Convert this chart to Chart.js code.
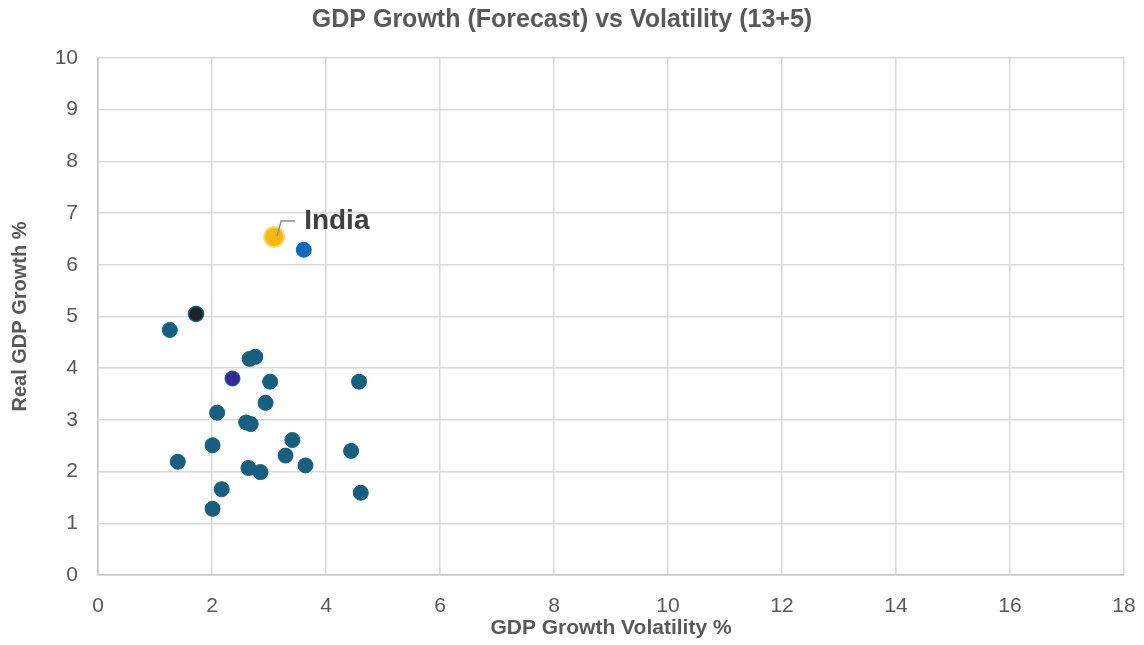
<!DOCTYPE html>
<html>
<head>
<meta charset="utf-8">
<script src="https://cdn.jsdelivr.net/npm/chart.js@4/dist/chart.umd.min.js"></script>
<style>
  html, body { margin: 0; padding: 0; background: #fff; }
  #wrap { width: 1144px; height: 645px; }
</style>
</head>
<body>
<div id="wrap"><canvas id="chart" width="1144" height="645"></canvas></div>
<script>
// Chart data
const xTicks = [0, 2, 4, 6, 8, 10, 12, 14, 16, 18];
const yTicks = [0, 1, 2, 3, 4, 5, 6, 7, 8, 9, 10];

// India (highlighted)
const indiaVolatility = [3.09];
const indiaGrowth = [6.54];

// other highlighted points
const blueVolatility = [3.61];
const blueGrowth = [6.29];
const darkVolatility = [1.72];
const darkGrowth = [5.05];
const purpleVolatility = [2.36];
const purpleGrowth = [3.80];

// the rest of the countries
const volatility = [1.26, 2.66, 2.76, 3.02, 4.58, 2.94, 2.09, 2.60, 2.68, 3.41, 2.01, 1.40, 3.29, 3.64, 4.44, 2.64, 2.85, 2.17, 4.61, 2.01];
const growth     = [4.74, 4.18, 4.22, 3.74, 3.74, 3.33, 3.14, 2.95, 2.92, 2.61, 2.51, 2.19, 2.31, 2.12, 2.40, 2.07, 1.99, 1.66, 1.59, 1.28];

function toPoints(xs, ys) {
    return xs.map((x, i) => ({ x: x, y: ys[i] }));
}

const FONT = "'Liberation Sans', Arial, sans-serif";
const GRAY = '#595959';
const GRID = '#d9d9d9';

// Draws the "India" call-out next to the yellow point
const indiaLabel = {
    id: 'indiaLabel',
    afterDatasetsDraw(chart) {
        const pt = chart.getDatasetMeta(4).data[0];
        if (!pt) return;
        const ctx = chart.ctx;
        const px = pt.x, py = pt.y;
        ctx.save();
        ctx.strokeStyle = '#8c8c8c';
        ctx.lineWidth = 1.5;
        ctx.beginPath();
        ctx.moveTo(px + 3, py - 1);
        ctx.lineTo(px + 7, py - 16);
        ctx.lineTo(px + 21, py - 16);
        ctx.stroke();
        ctx.fillStyle = '#404040';
        ctx.font = 'bold 28px ' + FONT;
        ctx.textBaseline = 'middle';
        ctx.textAlign = 'left';
        ctx.fillText('India', px + 30, py - 16);
        ctx.restore();
    }
};

const ctx = document.getElementById('chart').getContext('2d');

new Chart(ctx, {
    type: 'scatter',
    data: {
        datasets: [
            {
                label: 'Others',
                data: toPoints(volatility, growth),
                backgroundColor: '#165f80',
                borderColor: '#165f80',
                pointRadius: 7.5,
                order: 5
            },
            {
                label: 'Purple',
                data: toPoints(purpleVolatility, purpleGrowth),
                backgroundColor: '#33299a',
                borderColor: '#165f80',
                borderWidth: 1,
                pointRadius: 7.5,
                order: 4
            },
            {
                label: 'Dark',
                data: toPoints(darkVolatility, darkGrowth),
                backgroundColor: '#1e2328',
                borderColor: '#165f80',
                borderWidth: 1.5,
                pointRadius: 7.5,
                order: 3
            },
            {
                label: 'Blue',
                data: toPoints(blueVolatility, blueGrowth),
                backgroundColor: '#0a6cb8',
                borderColor: '#0a6cb8',
                pointRadius: 7.5,
                order: 2
            },
            {
                label: 'India',
                data: toPoints(indiaVolatility, indiaGrowth),
                backgroundColor: '#f6b80a',
                borderColor: 'rgba(250, 215, 120, 0.9)',
                borderWidth: 2,
                pointRadius: 10,
                order: 1
            }
        ]
    },
    options: {
        responsive: false,
        animation: false,
        layout: {
            padding: { left: 0, right: 20, top: 0, bottom: 0 }
        },
        plugins: {
            legend: { display: false },
            tooltip: { enabled: false },
            title: {
                display: true,
                text: 'GDP Growth (Forecast) vs Volatility (13+5)',
                color: GRAY,
                font: { family: FONT, size: 25, weight: 'bold' },
                padding: { top: 5, bottom: 23 }
            }
        },
        scales: {
            x: {
                type: 'linear',
                min: 0,
                max: 18,
                afterBuildTicks(scale) {
                    scale.ticks = xTicks.map(v => ({ value: v }));
                },
                afterFit(scale) {
                    scale.height = 70;
                    scale.paddingRight = 0;
                    scale.paddingLeft = 0;
                },
                ticks: {
                    color: GRAY,
                    font: { family: FONT, size: 21 },
                    padding: 19
                },
                grid: {
                    color: GRID,
                    lineWidth: 1.5,
                    drawTicks: false
                },
                border: { color: '#c8c8c8', width: 1.5 },
                title: {
                    display: true,
                    text: 'GDP Growth Volatility %',
                    color: GRAY,
                    font: { family: FONT, size: 21, weight: 'bold' },
                    padding: { top: 0, bottom: 4 }
                }
            },
            y: {
                type: 'linear',
                min: 0,
                max: 10,
                afterBuildTicks(scale) {
                    scale.ticks = yTicks.map(v => ({ value: v }));
                },
                afterFit(scale) {
                    scale.width = 98;
                },
                ticks: {
                    color: GRAY,
                    font: { family: FONT, size: 21 },
                    padding: 20
                },
                grid: {
                    color: GRID,
                    lineWidth: 1.5,
                    drawTicks: false
                },
                border: { color: '#c8c8c8', width: 1.5 },
                title: {
                    display: true,
                    text: 'Real GDP Growth %',
                    color: GRAY,
                    font: { family: FONT, size: 20, weight: 'bold' },
                    padding: { top: 8, bottom: 0 }
                }
            }
        }
    },
    plugins: [indiaLabel]
});
</script>
</body>
</html>
